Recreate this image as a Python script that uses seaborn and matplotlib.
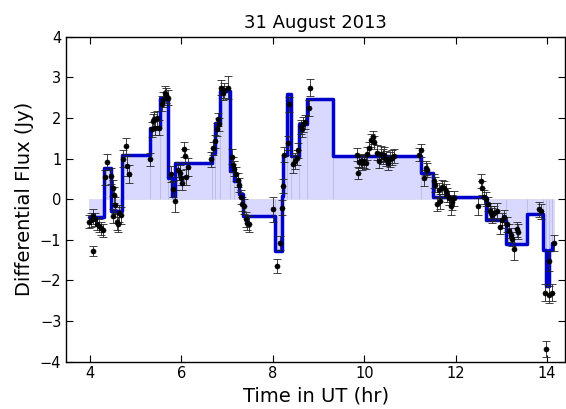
import numpy as np
import pandas as pd
import matplotlib
matplotlib.use('Agg')
import matplotlib.pyplot as plt
import seaborn as sns

# Bayesian-block edges (hr) and block levels (Jy)
block_edges = [3.98, 4.30, 4.46, 4.71, 5.32, 5.54, 5.71, 5.80, 5.87, 6.67,
               6.74, 6.85, 7.06, 7.14, 7.27, 7.35, 8.05, 8.20, 8.22, 8.31,
               8.39, 8.58, 8.74, 9.31, 11.25, 11.50, 12.67, 13.10, 13.57, 13.90,
               13.97, 14.03, 14.11, 14.16]
block_flux = [-0.45, 0.77, -0.28, 1.10, 1.75, 2.50, 0.53, 0.07, 0.88, 1.14,
              1.88, 2.67, 0.69, 0.44, 0.12, -0.42, -1.28, 0.07, 1.10, 2.59,
              1.06, 1.84, 2.46, 1.06, 0.65, 0.05, -0.52, -1.10, -0.37, -1.24,
              -2.15, -1.24, -1.07]

# measurements
obs_time = [3.97, 4.02, 4.06, 4.07, 4.11, 4.15, 4.20, 4.24, 4.28,
            4.33, 4.38, 4.46,
            4.51, 4.53, 4.55, 4.50, 4.58, 4.64, 4.68, 4.62,
            4.73, 4.78, 4.81, 4.85, 5.31,
            5.36, 5.38, 5.41, 5.43, 5.46, 5.50,
            5.57, 5.60, 5.64, 5.67, 5.70,
            5.77, 5.82, 5.86,
            5.93, 5.96, 6.00, 6.02, 6.05, 6.08, 6.11, 6.14, 6.65,
            6.69, 6.73, 6.77, 6.80, 6.83, 6.87, 6.90, 6.93, 7.02,
            7.10, 7.13, 7.16, 7.19, 7.23, 7.27, 7.31, 7.33, 7.37, 7.41, 7.44, 7.48, 8.01,
            8.09, 8.16, 8.19,
            8.23, 8.25, 8.34, 8.36,
            8.45, 8.49, 8.52, 8.55,
            8.61, 8.63, 8.67, 8.70,
            8.78, 8.81,
            9.83, 9.86, 9.89, 9.92, 9.95, 9.99, 10.03, 10.07, 10.11, 10.15, 10.19,
            10.22, 10.28, 10.32, 10.36, 10.40, 10.44, 10.48, 10.52, 10.56, 10.60,
            10.64, 11.20, 11.23,
            11.30, 11.34, 11.38,
            11.52, 11.55, 11.60, 11.63, 11.66, 11.70, 11.74, 11.78, 11.82, 11.86,
            11.89, 11.92, 11.96,
            12.49, 12.55, 12.57, 12.62, 12.66, 12.70, 12.74, 12.77, 12.80, 12.84,
            12.90, 12.97, 13.02, 13.06, 13.12, 13.16, 13.20, 13.24, 13.27, 13.33,
            13.37,
            13.83, 13.87, 13.96, 13.98, 14.04, 14.05, 14.10, 14.15]
obs_flux = [-0.55, -0.52, -0.42, -1.28, -0.50, -0.60, -0.66, -0.72, -0.76,
            0.54, 0.92, 0.57,
            0.28, 0.10, -0.15, -0.42, -0.56, -0.35, -0.40, -0.62,
            1.00, 1.31, 0.81, 0.62, 0.98,
            1.72, 1.93, 1.97, 1.75, 1.99, 1.76,
            2.35, 2.45, 2.62, 2.56, 2.50,
            0.62, 0.25, -0.05,
            0.73, 0.65, 0.53, 0.40, 1.23, 1.06, 0.55, 0.79, 0.98,
            1.25, 1.43, 1.72, 1.97, 1.85, 2.75, 2.62, 2.68, 2.75,
            1.05, 0.85, 0.75, 0.62, 0.47, 0.35, 0.05, -0.12, -0.18, -0.50, -0.58, -0.62, -0.25,
            -1.65, -1.08, -0.21,
            0.32, 1.10, 1.38, 2.34,
            0.86, 0.94, 1.02, 1.20,
            1.78, 1.72, 1.84, 1.90,
            2.25, 2.75,
            1.10, 0.65, 0.92, 0.95, 0.88, 0.93, 0.90, 1.12, 1.25, 1.45, 1.52,
            1.40, 1.15, 0.95, 1.12, 1.05, 1.10, 1.00, 0.90, 0.98, 1.02,
            1.06, 1.10, 1.20,
            0.53, 0.77, 0.72,
            0.45, 0.36, -0.12, 0.22, -0.05, 0.30, 0.27, 0.20, 0.10, 0.03,
            -0.17, -0.08, 0.02,
            -0.18, 0.45, 0.28, 0.05, 0.00, -0.12, -0.28, -0.35, -0.40, -0.35,
            -0.28, -0.68, -0.52, -0.45, -0.62, -0.78, -0.88, -0.98, -1.22, -0.74,
            -0.80,
            -0.25, -0.30, -2.30, -3.70, -2.35, -1.52, -2.30, -1.08]
obs_err = [0.17, 0.17, 0.18, 0.12, 0.17, 0.17, 0.16, 0.16, 0.16,
           0.18, 0.19, 0.20,
           0.20, 0.20, 0.20, 0.17, 0.20, 0.20, 0.20, 0.18,
           0.20, 0.19, 0.25, 0.23, 0.16,
           0.18, 0.18, 0.18, 0.18, 0.18, 0.18,
           0.18, 0.18, 0.18, 0.18, 0.18,
           0.20, 0.20, 0.27,
           0.18, 0.18, 0.18, 0.18, 0.18, 0.18, 0.20, 0.22, 0.18,
           0.16, 0.16, 0.16, 0.16, 0.16, 0.18, 0.18, 0.18, 0.28,
           0.18, 0.18, 0.18, 0.18, 0.18, 0.18, 0.18, 0.18, 0.18, 0.18, 0.18, 0.20, 0.30,
           0.18, 0.18, 0.18,
           0.18, 0.18, 0.18, 0.18,
           0.22, 0.20, 0.18, 0.18,
           0.18, 0.18, 0.18, 0.18,
           0.20, 0.20,
           0.15, 0.15, 0.16, 0.16, 0.16, 0.16, 0.16, 0.16, 0.16, 0.16, 0.16,
           0.16, 0.18, 0.18, 0.18, 0.18, 0.18, 0.18, 0.18, 0.18, 0.18,
           0.18, 0.16, 0.16,
           0.20, 0.18, 0.18,
           0.18, 0.18, 0.18, 0.18, 0.18, 0.18, 0.18, 0.18, 0.18, 0.18,
           0.22, 0.18, 0.18,
           0.22, 0.17, 0.17, 0.18, 0.18, 0.18, 0.18, 0.18, 0.18, 0.18,
           0.18, 0.18, 0.18, 0.18, 0.18, 0.18, 0.18, 0.18, 0.28, 0.18,
           0.18,
           0.18, 0.18, 0.20, 0.20, 0.20, 0.25, 0.20, 0.20]

sns.set_style('white')
plt.rcParams.update({
    'font.family': ['DejaVu Sans'],
    'text.color': 'black', 'axes.labelcolor': 'black',
    'xtick.color': 'black', 'ytick.color': 'black',
    'xtick.direction': 'in', 'ytick.direction': 'in',
    'xtick.top': True, 'ytick.right': True,
    'xtick.bottom': True, 'ytick.left': True,
    'xtick.major.size': 5, 'ytick.major.size': 5,
    'axes.edgecolor': 'black', 'axes.linewidth': 1.0,
})

obs = pd.DataFrame({'time': obs_time, 'flux': obs_flux, 'err': obs_err})
steps = pd.DataFrame({'time': block_edges, 'flux': block_flux + [block_flux[-1]]})

fig = plt.figure(figsize=(5.66, 4.09), dpi=100)
ax = fig.add_axes([0.117, 0.116, 0.882, 0.794])

# shaded blocks
ax.bar(block_edges[:-1], block_flux, width=np.diff(block_edges), align='edge',
       color=(0.0, 0.0, 1.0, 0.15), edgecolor=(0.4, 0.4, 0.65, 0.15), linewidth=0.6)

sns.lineplot(data=steps, x='time', y='flux', drawstyle='steps-post', estimator=None,
             sort=False, color='#0000cc', linewidth=2.5, ax=ax)

ax.errorbar(obs['time'], obs['flux'], yerr=obs['err'], fmt='none', ecolor='#222222',
            elinewidth=0.6, capsize=3, capthick=0.6)
sns.scatterplot(data=obs, x='time', y='flux', color='black', s=14, edgecolor='black',
                linewidth=0.3, ax=ax, zorder=5)

ax.set_xlim(3.48, 14.4)
ax.set_ylim(-4, 4)
ax.set_xticks([4, 6, 8, 10, 12, 14])
ax.set_yticks(range(-4, 5))
ax.tick_params(labelsize=10.5)
ax.set_xlabel('Time in UT (hr)', fontsize=14)
ax.set_ylabel('Differential Flux (Jy)', fontsize=14)
ax.set_title('31 August 2013', fontsize=13)
for s in ax.spines.values():
    s.set_visible(True)

fig.savefig('out.png', dpi=100)
